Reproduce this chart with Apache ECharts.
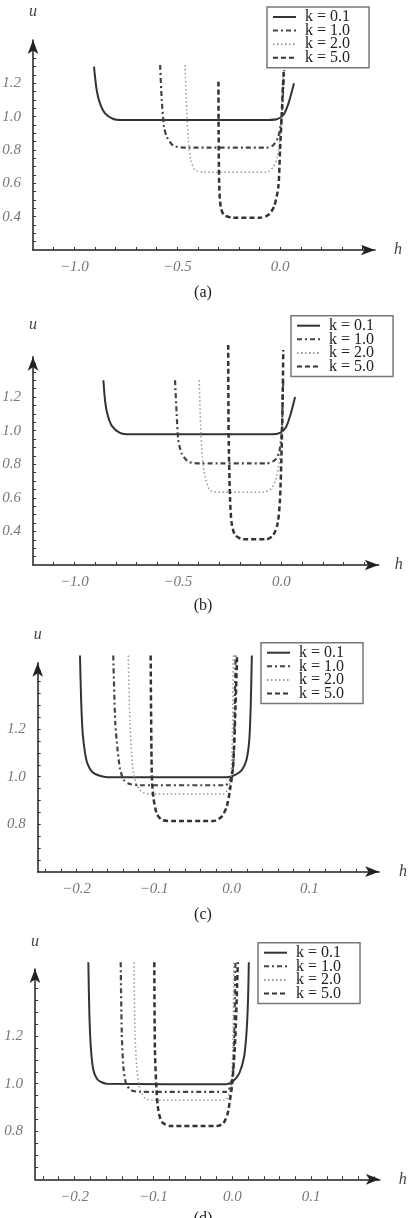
<!DOCTYPE html>
<html>
<head>
<meta charset="utf-8">
<script src="https://cdn.jsdelivr.net/npm/echarts@6/dist/echarts.min.js"></script>
<style>
html, body { margin: 0; padding: 0; background: #fff; }
#main { width: 410px; height: 1218px; }
</style>
</head>
<body>
<div id="main"></div>
<script>
// legend names and panel captions
var seriesNames = ['k = 0.1', 'k = 1.0', 'k = 2.0', 'k = 5.0'];
var captions = ['(a)', '(b)', '(c)', '(d)'];

// tick marks and labelled ticks
var xTicksAB = [-1.1, -1.0, -0.9, -0.8, -0.7, -0.6, -0.5, -0.4, -0.3, -0.2, -0.1, 0.0, 0.1, 0.2, 0.3, 0.4];
var xLabelsAB = [-1.0, -0.5, 0.0];
var yTicksAB = [0.25, 0.3, 0.35, 0.4, 0.45, 0.5, 0.55, 0.6, 0.65, 0.7, 0.75, 0.8, 0.85, 0.9, 0.95, 1.0, 1.05, 1.1, 1.15, 1.2, 1.25, 1.3, 1.35, 1.4];
var yLabelsAB = [0.4, 0.6, 0.8, 1.0, 1.2];
var xTicksCD = [-0.24, -0.22, -0.2, -0.18, -0.16, -0.14, -0.12, -0.1, -0.08, -0.06, -0.04, -0.02, 0.0, 0.02, 0.04, 0.06, 0.08, 0.1, 0.12, 0.14, 0.16, 0.18];
var xLabelsCD = [-0.2, -0.1, 0.0, 0.1];
var yTicksCD = [0.65, 0.7, 0.75, 0.8, 0.85, 0.9, 0.95, 1.0, 1.05, 1.1, 1.15, 1.2, 1.25, 1.3, 1.35, 1.4, 1.45];
var yLabelsCD = [0.8, 1.0, 1.2];

// (a)  [h, u]
var a_k01 = [[-0.904,1.30],[-0.891,1.16],[-0.875,1.08],[-0.850,1.02],[-0.81,0.986],[-0.77,0.98],[-0.082,0.98],[-0.017,0.985],[0.015,1.01],[0.04,1.08],[0.067,1.20]];
var a_k10 = [[-0.583,1.31],[-0.575,1.10],[-0.564,0.94],[-0.551,0.88],[-0.519,0.826],[-0.454,0.814],[-0.066,0.814],[-0.033,0.83],[-0.009,0.88],[0.007,1.0],[0.015,1.18],[0.020,1.28]];
var a_k20 = [[-0.462,1.31],[-0.454,1.04],[-0.446,0.86],[-0.434,0.74],[-0.414,0.68],[-0.373,0.667],[-0.066,0.667],[-0.033,0.70],[-0.014,0.76],[0.0,0.88],[0.006,1.0],[0.011,1.15],[0.014,1.25]];
var a_k50 = [[-0.300,1.21],[-0.299,0.90],[-0.296,0.58],[-0.289,0.46],[-0.273,0.41],[-0.228,0.394],[-0.098,0.394],[-0.058,0.41],[-0.030,0.46],[-0.009,0.58],[-0.001,0.80],[0.007,1.0],[0.013,1.18],[0.017,1.27]];
// (b)
var b_k01 = [[-0.860,1.30],[-0.852,1.18],[-0.841,1.10],[-0.820,1.03],[-0.780,0.987],[-0.731,0.978],[-0.047,0.978],[-0.007,0.987],[0.022,1.02],[0.045,1.10],[0.066,1.20]];
var b_k10 = [[-0.514,1.30],[-0.506,1.10],[-0.498,0.944],[-0.482,0.865],[-0.450,0.815],[-0.393,0.805],[-0.071,0.805],[-0.031,0.825],[-0.010,0.875],[0.001,0.984],[0.006,1.18],[0.009,1.30]];
var b_k20 = [[-0.397,1.30],[-0.390,1.02],[-0.382,0.845],[-0.369,0.725],[-0.345,0.646],[-0.297,0.633],[-0.087,0.633],[-0.047,0.657],[-0.023,0.726],[-0.007,0.845],[0.001,0.985],[0.005,1.15],[0.008,1.30]];
var b_k50 = [[-0.257,1.51],[-0.255,0.984],[-0.248,0.587],[-0.240,0.448],[-0.224,0.379],[-0.184,0.353],[-0.071,0.353],[-0.039,0.379],[-0.018,0.448],[-0.007,0.587],[0.001,0.885],[0.006,1.18],[0.009,1.48]];
// (c)
var c_k01 = [[-0.1955,1.51],[-0.194,1.32],[-0.192,1.183],[-0.189,1.10],[-0.186,1.056],[-0.180,1.021],[-0.170,1.004],[-0.160,0.998],[-0.006,0.998],[0.004,1.007],[0.013,1.028],[0.019,1.07],[0.0227,1.155],[0.0245,1.295],[0.026,1.51]];
var c_k10 = [[-0.1526,1.51],[-0.150,1.225],[-0.147,1.112],[-0.144,1.035],[-0.139,0.986],[-0.131,0.969],[-0.118,0.964],[-0.0085,0.964],[-0.002,0.986],[0.002,1.05],[0.004,1.3],[0.005,1.51]];
var c_k20 = [[-0.1333,1.51],[-0.131,1.225],[-0.1276,1.042],[-0.1233,0.972],[-0.116,0.937],[-0.1053,0.927],[-0.0108,0.927],[-0.0044,0.951],[-0.001,1.0],[0.001,1.2],[0.002,1.51]];
var c_k50 = [[-0.1044,1.51],[-0.103,1.014],[-0.101,0.916],[-0.0967,0.846],[-0.090,0.818],[-0.075,0.813],[-0.0237,0.813],[-0.0129,0.832],[-0.0064,0.874],[-0.0022,0.944],[0.002,1.05],[0.005,1.3],[0.007,1.51]];
// (d)
var d_k01 = [[-0.1824,1.508],[-0.181,1.28],[-0.179,1.141],[-0.176,1.057],[-0.170,1.015],[-0.159,1.0],[-0.007,0.998],[0.0013,1.011],[0.009,1.044],[0.015,1.113],[0.018,1.21],[0.020,1.35],[0.021,1.508]];
var d_k10 = [[-0.1414,1.508],[-0.140,1.21],[-0.138,1.071],[-0.1347,1.002],[-0.1287,0.974],[-0.117,0.966],[-0.007,0.966],[-0.0029,0.987],[0.001,1.05],[0.003,1.3],[0.004,1.508]];
var d_k20 = [[-0.1245,1.508],[-0.1233,1.21],[-0.1211,1.071],[-0.1178,0.987],[-0.1106,0.939],[-0.100,0.931],[-0.0092,0.931],[-0.005,0.946],[-0.001,1.0],[0.001,1.2],[0.002,1.508]];
var d_k50 = [[-0.0988,1.508],[-0.098,1.141],[-0.0958,0.96],[-0.0937,0.89],[-0.0894,0.841],[-0.0789,0.823],[-0.0197,0.823],[-0.0114,0.834],[-0.0058,0.876],[-0.0029,0.932],[0.0,1.0],[0.004,1.2],[0.007,1.508]];

var panelData = [
    [a_k01, a_k10, a_k20, a_k50],
    [b_k01, b_k10, b_k20, b_k50],
    [c_k01, c_k10, c_k20, c_k50],
    [d_k01, d_k10, d_k20, d_k50]
];

// layout of the four panels (pixels)
var panels = [
    {left: 33,   top: 40,    width: 342,   height: 210,   xMin: -1.2,  xMax: 0.46,  yMin: 0.2, yMax: 1.46, uGap: 20, hGap: 19, lgLeft: 267, lgTop: 7,     capY: 293},
    {left: 33,   top: 356.7, width: 345.7, height: 208.3, xMin: -1.2,  xMax: 0.47,  yMin: 0.2, yMax: 1.44, uGap: 24, hGap: 16, lgLeft: 291, lgTop: 315.7, capY: 606},
    {left: 37.7, top: 662.7, width: 341.4, height: 209,   xMin: -0.25, xMax: 0.19,  yMin: 0.6, yMax: 1.48, uGap: 20, hGap: 20, lgLeft: 261, lgTop: 642.7, capY: 915},
    {left: 35,   top: 969,   width: 344.8, height: 210.3, xMin: -0.25, xMax: 0.187, yMin: 0.6, yMax: 1.48, uGap: 19, hGap: 19, lgLeft: 258, lgTop: 942.7, capY: 1219}
];

var serif = '"Liberation Serif", "DejaVu Serif", serif';
var lineStyles = [
    {color: '#333', width: 2, type: 'solid'},
    {color: '#444', width: 2.2, type: [5, 3, 2, 3]},
    {color: '#999', width: 1.5, type: [1.5, 2.5]},
    {color: '#333', width: 2.5, type: [5, 3]}
];

function fmt(v) {
    return (v < 0 ? '\u2212' : '') + Math.abs(v).toFixed(1);
}

var grids = [], xAxes = [], yAxes = [], legends = [], series = [], graphics = [];

panels.forEach(function (p, i) {
    var ab = i < 2;
    grids.push({left: p.left, top: p.top, width: p.width, height: p.height, containLabel: false, outerBoundsMode: 'none'});
    xAxes.push({
        type: 'value', gridIndex: i, min: p.xMin, max: p.xMax,
        axisLine: {onZero: false, symbol: ['none', 'arrow'], symbolSize: [8, 14], lineStyle: {color: '#222', width: 1.5}},
        axisTick: {inside: true, length: 3, customValues: ab ? xTicksAB : xTicksCD, lineStyle: {color: '#333', width: 1}},
        axisLabel: {customValues: ab ? xLabelsAB : xLabelsCD, formatter: fmt, margin: 10, color: '#777',
            fontFamily: serif, fontStyle: 'italic', fontSize: 15},
        splitLine: {show: false},
        name: 'h', nameLocation: 'end', nameGap: p.hGap,
        nameTextStyle: {fontFamily: serif, fontStyle: 'italic', fontSize: 16, color: '#444'}
    });
    yAxes.push({
        type: 'value', gridIndex: i, min: p.yMin, max: p.yMax,
        axisLine: {onZero: false, symbol: ['none', 'arrow'], symbolSize: [8, 14], lineStyle: {color: '#222', width: 1.5}},
        axisTick: {inside: true, length: 3, customValues: ab ? yTicksAB : yTicksCD, lineStyle: {color: '#333', width: 1}},
        axisLabel: {customValues: ab ? yLabelsAB : yLabelsCD, formatter: fmt, margin: 12, color: '#777',
            fontFamily: serif, fontStyle: 'italic', fontSize: 15},
        splitLine: {show: false},
        name: 'u', nameLocation: 'end', nameGap: p.uGap,
        nameTextStyle: {fontFamily: serif, fontStyle: 'italic', fontSize: 16, color: '#444'}
    });
    legends.push({
        orient: 'vertical', left: p.lgLeft, top: p.lgTop, data: seriesNames, selectedMode: false,
        padding: [2, 19, 2, 5], itemGap: -2.4, itemWidth: 23, itemHeight: 12,
        borderColor: '#777', borderWidth: 1.5, backgroundColor: '#fff',
        itemStyle: {color: 'rgba(0,0,0,0)', borderWidth: 0, opacity: 0},
        textStyle: {fontFamily: serif, fontSize: 16, color: '#222', padding: [0, 0, 0, 4]}
    });
    panelData[i].forEach(function (d, j) {
        series.push({
            type: 'line', name: seriesNames[j], xAxisIndex: i, yAxisIndex: i,
            data: d, symbol: 'none', smooth: 0.25, clip: false,
            lineStyle: lineStyles[j], itemStyle: {color: lineStyles[j].color}
        });
    });
    graphics.push({
        type: 'text', x: 203, y: p.capY,
        style: {text: captions[i], font: '16px ' + serif, fill: '#222', align: 'center', verticalAlign: 'middle'}
    });
});

var chart = echarts.init(document.getElementById('main'));
chart.setOption({
    animation: false,
    backgroundColor: '#fff',
    grid: grids,
    xAxis: xAxes,
    yAxis: yAxes,
    legend: legends,
    series: series,
    graphic: graphics
});
</script>
</body>
</html>
